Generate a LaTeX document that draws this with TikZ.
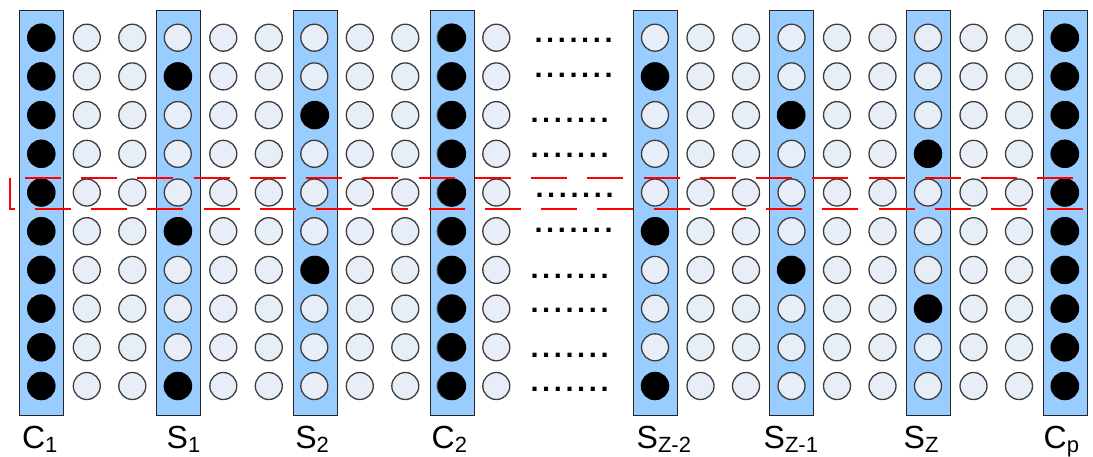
\documentclass[tikz,border=0pt]{standalone}
\usepackage{fontspec}
\setmainfont{Liberation Sans}
\newfontfamily\dotsfont{Liberation Sans}[LetterSpace=12.4]
\newcommand\lsub[1]{\raisebox{-4pt}{\fontsize{22}{22}\selectfont #1}}
\begin{document}
\begin{tikzpicture}[x=1pt,y=-1pt]
\definecolor{cbar}{RGB}{153,204,255}
\definecolor{cunit}{RGB}{232,238,248}
\definecolor{cedge}{RGB}{60,60,60}
\tikzset{
  bar/.style={draw=black!85,line width=1pt,fill=cbar},
  unit/.style={draw=cedge,line width=1.3pt,fill=cunit},
  hot/.style={draw=black,line width=1.3pt,fill=black},
  lbl/.style={anchor=base west,inner sep=0pt,font=\fontsize{32}{32}\selectfont},
  gap/.style={anchor=base west,inner sep=0pt,text height=4pt,text depth=0pt,
    font=\dotsfont\bfseries\fontsize{29}{29}\selectfont}
}
\useasboundingbox (0,0) rectangle (1093,456);
% selected columns
\foreach \cx in {41.3,178,315,452,655,791,928,1065}
  \draw[bar] (\cx-22,10.3) rectangle (\cx+22,415);
% all units, left and right block
\foreach \i in {0,...,10}
  \foreach \r in {0,...,9}
    \draw[unit] (41.3+45.5*\i,37.7+38.7*\r) circle (13.5);
\foreach \i in {0,...,9}
  \foreach \r in {0,...,9}
    \draw[unit] (655+45.5*\i,37.7+38.7*\r) circle (13.5);
% active units
\foreach \cx/\rows in {41.3/{1,...,10},178/{2,6,10},315/{3,7},452/{1,...,10},
    655/{2,6,10},791/{3,7},928/{4,8},1065/{1,...,10}}
  \foreach \r in \rows
    \draw[hot] (\cx,37.7+38.7*\r-38.7) circle (13.5);
% skipped columns
\foreach \dx/\dy [count=\k] in {537/41,537/76,533/121,533/156,538/196,
    537/231,533/277,533/311,533/356,533/390}
  \node[gap] (gap\k) at (\dx-2.6,\dy+1.8) {.......};
% marked row
\begin{scope}
\clip (0,0) rectangle (1093,456);
\draw[red,line width=2pt,dash pattern=on 36pt off 20.25pt]
  (10,177.7) -- (10,209) -- (1101,209) -- (1101,177.7) -- cycle;
\end{scope}
\node[lbl] (lC1) at (21.8,448) {C\lsub{1}};
\node[lbl] (lS1) at (166.5,448) {S\lsub{1}};
\node[lbl] (lS2) at (295.2,448) {S\lsub{2}};
\node[lbl] (lC2) at (431.5,448) {C\lsub{2}};
\node[lbl] (lSz2) at (636.5,448) {S\lsub{Z-2}};
\node[lbl] (lSz1) at (763.5,448) {S\lsub{Z-1}};
\node[lbl] (lSz) at (903.5,448) {S\lsub{Z}};
\node[lbl] (lCp) at (1043.5,448) {C\lsub{p}};
\end{tikzpicture}
\end{document}
